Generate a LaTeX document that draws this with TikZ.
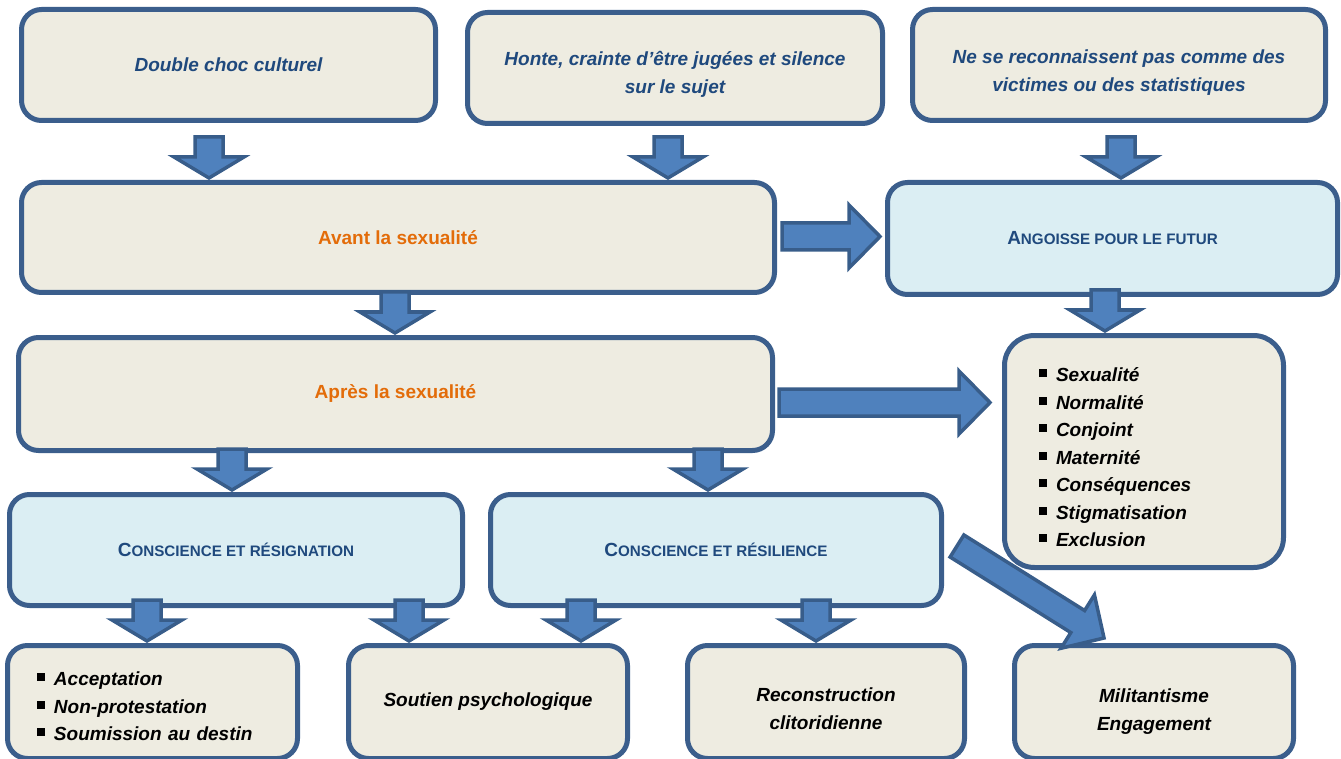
\documentclass[tikz,border=0pt]{standalone}
\usepackage{fontspec}
\setmainfont{Liberation Sans}
\usetikzlibrary{calc}
\definecolor{beige}{HTML}{EEECE1}
\definecolor{paleblue}{HTML}{DBEEF3}
\definecolor{boxline}{HTML}{3B5E8C}
\definecolor{arrowfill}{HTML}{4F81BD}
\definecolor{arrowline}{HTML}{385D8A}
\definecolor{txtblue}{HTML}{1F497D}
\definecolor{txtorange}{HTML}{E36C09}

\newcommand{\pcap}[2]{#1{\fontsize{15.2}{18}\selectfont #2}}
\newcommand{\puce}{\raisebox{4.5pt}{\rule{8pt}{8pt}}\hspace{9pt}}
\newcommand{\topgap}[1]{\rule{0pt}{#1pt}}
% block arrow: head length, head half width, shaft half width, tail, tip
\newcommand{\fatarrow}[5]{%
  \coordinate (fa-hb) at ($(#5)!#1!(#4)$);
  \draw[blockarr] ($(#4)!#3!90:(#5)$) -- ($(fa-hb)!#3!-90:(#4)$) -- ($(fa-hb)!#2!-90:(#4)$) -- (#5)
    -- ($(fa-hb)!#2!90:(#4)$) -- ($(fa-hb)!#3!90:(#4)$) -- ($(#4)!#3!-90:(#5)$) -- cycle;}
\newcommand{\downfat}[3]{%
  \coordinate (dh) at ($(#1.south |- #3.north)+(#2,-2)$);
  \coordinate (dt) at ($(dh)+(0,-41)$);
  \fatarrow{21pt}{35pt}{14pt}{dt}{dh}}

\begin{document}
\begin{tikzpicture}[x=1pt, y=-1pt,
    box/.style={draw=boxline, line width=5pt, rounded corners=20pt, fill=beige, align=center, inner sep=0pt,
      font=\fontsize{19}{27.5}\selectfont\bfseries\itshape, text=txtblue},
    head/.style={box, font=\fontsize{19}{27.5}\selectfont\bfseries, text=txtorange},
    bluebox/.style={box, fill=paleblue, font=\fontsize{19}{27.5}\selectfont\bfseries},
    listbox/.style={box, text=black, align=left},
    sz/.style 2 args={minimum width=#1pt, minimum height=#2pt},
    blockarr/.style={fill=arrowfill, draw=arrowline, line width=3.5pt, line join=miter}]

  \useasboundingbox (0,0) rectangle (1341,759);

  \node[box, sz={414}{111}] (dbl) at (228.5,65) {Double choc culturel};
  \node[box, sz={415}{111}] (honte) at (675,68) {\topgap{27}Honte, crainte d’être jugées et silence\\sur le sujet};
  \node[box, sz={413}{111}] (nese) at (1119,65) {\topgap{29}Ne se reconnaissent pas comme des\\victimes ou des statistiques};

  \node[head, sz={753}{110}] (avant) at (398,237.5) {Avant la sexualité};
  \node[bluebox, sz={450}{112}] (angoisse) at (1112.5,238.5) {\pcap{A}{NGOISSE POUR LE FUTUR}};

  \node[head, sz={754}{113}] (apres) at (395.5,394) {Après la sexualité};
  \node[listbox, sz={279}{232}, rounded corners=30pt, text width=210pt] (futur) at (1144,451.5)
    {\topgap{26}\puce Sexualité\\\puce Normalité\\\puce Conjoint\\\puce Maternité\\\puce Conséquences\\\puce Stigmatisation\\\puce Exclusion};

  \node[bluebox, sz={453}{111}] (resign) at (236,550) {\pcap{C}{ONSCIENCE ET RÉSIGNATION}};
  \node[bluebox, sz={451}{111}] (resil) at (716,550) {\pcap{C}{ONSCIENCE ET RÉSILIENCE}};

  \node[listbox, sz={290}{113}, text width=231pt] (accept) at (152.5,702)
    {\topgap{23}\puce Acceptation\\\puce Non-protestation\\\puce Soumission au destin};
  \node[box, text=black, sz={279}{113}] (soutien) at (488,702) {Soutien psychologique};
  \node[box, text=black, sz={277}{113}] (recon) at (826,702) {\topgap{27}Reconstruction\\clitoridienne};
  \node[box, text=black, sz={279}{113}] (milit) at (1154,702) {\topgap{33}Militantisme\\Engagement};

  \downfat{dbl}{-19.5}{avant}
  \downfat{honte}{-7}{avant}
  \downfat{nese}{2}{angoisse}
  \downfat{avant}{-3}{apres}
  \downfat{angoisse}{-7.5}{futur}
  \downfat{apres}{-163.5}{resign}
  \downfat{apres}{312.5}{resil}
  \downfat{resign}{-89}{accept}
  \downfat{resign}{173}{soutien}
  \downfat{resil}{-135}{soutien}
  \downfat{resil}{100}{recon}

  \coordinate (t1) at ($(avant.east)+(5,-1)$);
  \coordinate (h1) at ($(angoisse.west |- t1)+(-5,0)$);
  \fatarrow{31pt}{31.5pt}{13.5pt}{t1}{h1}
  \coordinate (t2) at ($(apres.east)+(4,8.5)$);
  \coordinate (h2) at ($(futur.west |- t2)+(-12,0)$);
  \fatarrow{31pt}{31.5pt}{13.5pt}{t2}{h2}
  \coordinate (t3) at ($(resil.east)+(13,-4)$);
  \coordinate (h3) at ($(milit.north west)+(92,-5)$);
  \fatarrow{31pt}{31.5pt}{13pt}{t3}{h3}
\end{tikzpicture}
\end{document}
